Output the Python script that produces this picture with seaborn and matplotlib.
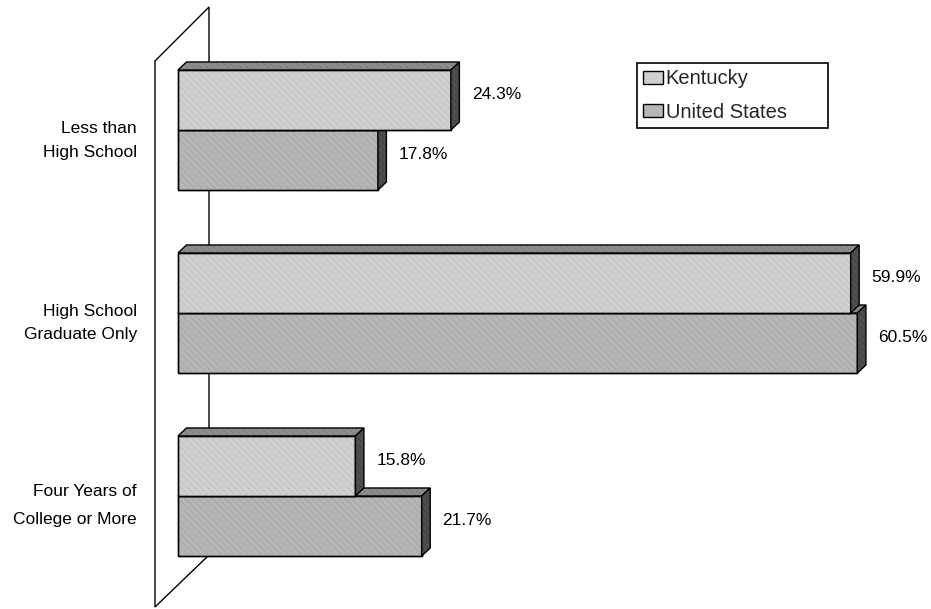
import matplotlib
matplotlib.use("Agg")
import matplotlib.pyplot as plt
import matplotlib.transforms as mtransforms
from matplotlib.patches import Polygon
import pandas as pd
import seaborn as sns

# ---- data -------------------------------------------------------------
categories = ["Less than\nHigh School",
              "High School\nGraduate Only",
              "Four Years of\nCollege or More"]
regions = ["Kentucky", "United States"]
kentucky = [24.3, 59.9, 15.8]
united_states = [17.8, 60.5, 21.7]

df = pd.DataFrame({
    "Education": categories * 2,
    "Region": [regions[0]] * len(categories) + [regions[1]] * len(categories),
    "Percent": kentucky + united_states,
})

# ---- style ------------------------------------------------------------
sns.set_theme(style="white")
plt.rcParams["font.family"] = ["Liberation Sans", "DejaVu Sans"]
plt.rcParams["hatch.linewidth"] = 0.6

W, H = 931, 609
fig = plt.figure(figsize=(W / 100, H / 100), dpi=100)
ax = fig.add_axes([0, 0, 1, 1])

front_colors = {"Kentucky": "#cfcfcf", "United States": "#b6b6b6"}
hatch_colors = {"Kentucky": "#bebebe", "United States": "#a5a5a5"}
top_color, top_hatch = "#8c8c8c", "#7c7c7c"
side_color, side_hatch = "#4e4e4e", "#404040"

sns.barplot(data=df, x="Percent", y="Education", hue="Region",
            order=categories, hue_order=regions, palette=front_colors,
            orient="h", width=0.656, errorbar=None, saturation=1,
            edgecolor="black", linewidth=1.0, ax=ax)

# scale: 0% sits at x=178 px, 11.23 px per percent; rows 183 px apart
px_per_pct, x_zero = 11.23, 178
row_px, row_zero = 183, 130
ax.set_xlim(-x_zero / px_per_pct, (W - x_zero) / px_per_pct)
ax.set_ylim((H - row_zero) / row_px, -row_zero / row_px)
ax.set_axis_off()

# pixel-space transform for the decorative back wall (y measured downward)
pix = mtransforms.Affine2D().scale(1 / W, -1 / H).translate(0, 1) + fig.transFigure
wall = Polygon([(155, 61), (209, 7), (209, 555), (155, 607)], closed=True,
               facecolor="white", edgecolor="black", linewidth=1.0,
               transform=pix, zorder=1)
ax.add_patch(wall)

# ---- 3-D bar faces ----------------------------------------------------
dx = 8.5 / px_per_pct      # depth offset along x (percent units)
dy = -8.0 / row_px         # depth offset along y (category units, upward)
HATCH = "\\\\\\\\\\"


def face(verts, fc, hc, z):
    ax.add_patch(Polygon(verts, closed=True, facecolor=fc, edgecolor="none",
                         linewidth=0, zorder=z))
    ax.add_patch(Polygon(verts, closed=True, facecolor="none", edgecolor=hc,
                         linewidth=0, hatch=HATCH, zorder=z + 0.001))
    ax.add_patch(Polygon(verts, closed=True, facecolor="none", edgecolor="black",
                         linewidth=1.0, zorder=z + 0.002))


kent_bars, us_bars = ax.containers
for z, name, bars in [(2, "United States", us_bars), (3, "Kentucky", kent_bars)]:
    for bar in bars:
        bar.set_zorder(z)
        x0, y0 = bar.get_x(), bar.get_y()
        x1, y1 = x0 + bar.get_width(), y0 + bar.get_height()
        front = [(x0, y0), (x1, y0), (x1, y1), (x0, y1)]
        ax.add_patch(Polygon(front, closed=True, facecolor="none",
                             edgecolor=hatch_colors[name], linewidth=0,
                             hatch=HATCH, zorder=z + 0.001))
        ax.add_patch(Polygon(front, closed=True, facecolor="none",
                             edgecolor="black", linewidth=1.0, zorder=z + 0.002))
        top = [(x0, y0), (x1, y0), (x1 + dx, y0 + dy), (x0 + dx, y0 + dy)]
        side = [(x1, y0), (x1, y1), (x1 + dx, y1 + dy), (x1 + dx, y0 + dy)]
        face(top, top_color, top_hatch, z + 0.01)
        face(side, side_color, side_hatch, z + 0.02)

# ---- value labels -----------------------------------------------------
for bars, values in [(kent_bars, kentucky), (us_bars, united_states)]:
    for bar, v in zip(bars, values):
        ax.annotate(f"{v:.1f}%",
                    xy=(bar.get_x() + bar.get_width(), bar.get_y() + bar.get_height() / 2),
                    xytext=(15, 4.0), textcoords="offset points",
                    ha="left", va="center", fontsize=12.5, color="black", zorder=6)

# ---- category labels --------------------------------------------------
label_spacing = [1.69, 1.62, 2.06]
label_shift = [-7.6, -7.3, -6.6]
for i, (cat, ls, sh) in enumerate(zip(categories, label_spacing, label_shift)):
    ax.annotate(cat, xy=(0, i), xytext=(-29.5, sh), textcoords="offset points",
                ha="right", va="center", multialignment="right",
                linespacing=ls, fontsize=12.5, color="black")

# ---- legend -----------------------------------------------------------
sns.move_legend(ax, "upper left",
                bbox_to_anchor=(637 / W, 1 - 124 / H, (828 - 637) / W, (124 - 63) / H),
                mode="expand", title=None, frameon=True, fancybox=False,
                framealpha=1, fontsize=14.5, handlelength=0.95, handleheight=0.6,
                handletextpad=0.15, labelspacing=0.72, borderpad=0.32,
                borderaxespad=0)
leg = ax.get_legend()
leg.get_frame().set_edgecolor("black")
leg.get_frame().set_linewidth(1.2)
leg.set_zorder(10)

fig.savefig("out.png", dpi=100, facecolor="white")
